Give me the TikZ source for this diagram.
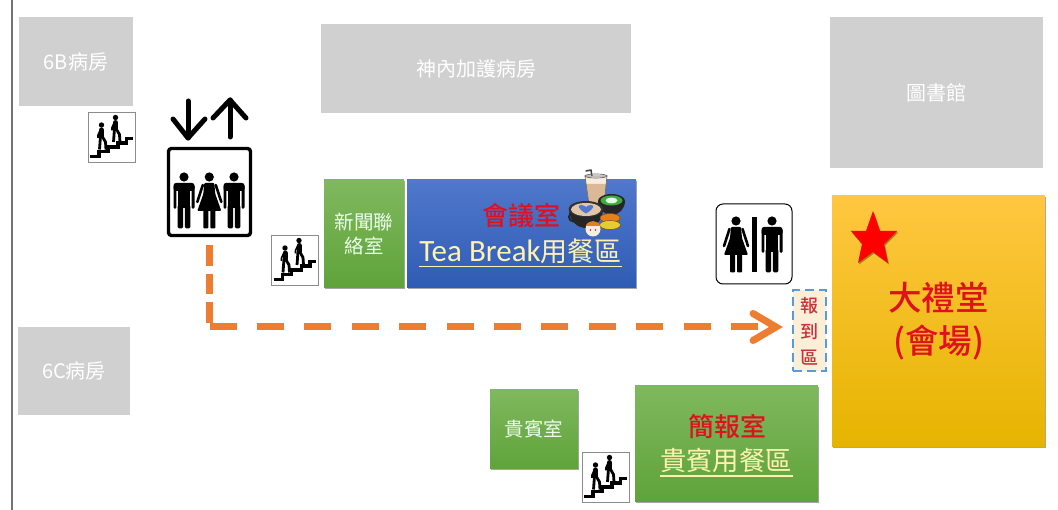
\documentclass[tikz,border=0pt]{standalone}
\usepackage{fontspec}
\setmainfont{Noto Sans CJK TC}
\newfontfamily\latinf{Carlito}
\newfontfamily\medf{Noto Sans CJK TC Medium}
\usetikzlibrary{shapes.geometric,shadows}
\definecolor{roomgray}{HTML}{D0D0D0}
\definecolor{paleyellow}{HTML}{FFF2B0}
\definecolor{routeorange}{HTML}{ED7D31}
\definecolor{greentop}{HTML}{80B85E}
\definecolor{greenbot}{HTML}{5FA33A}
\definecolor{bluetop}{HTML}{5078CC}
\definecolor{bluebot}{HTML}{2F5CB4}
\definecolor{goldtop}{HTML}{FFC740}
\definecolor{goldmid}{HTML}{FFC400}
\definecolor{goldbot}{HTML}{E6B400}
\definecolor{titlered}{HTML}{E0101E}
\definecolor{deskfill}{HTML}{FCEFD8}
\definecolor{deskline}{HTML}{5B9BD5}
\definecolor{desktext}{HTML}{C8303A}
\newcommand{\fs}[1]{\fontsize{#1}{#1}\selectfont}
\tikzset{
  room/.style={inner sep=0pt,align=center},
  grayroom/.style={room,fill=roomgray,text=white,font=\fs{20}},
  softshadow/.style={drop shadow={shadow xshift=1pt,shadow yshift=-1.5pt,opacity=.35,fill=black}},
  greenroom/.style={room,softshadow,top color=greentop,bottom color=greenbot,text=white!92!green,font=\fs{19.5}},
  blueroom/.style={room,softshadow,top color=bluetop,bottom color=bluebot},
  goldroom/.style={room,softshadow,top color=goldtop,middle color=goldmid,bottom color=goldbot},
  redtxt/.style={inner sep=0pt,text=titlered,font=\medf\fs{26}},
  halltxt/.style={inner sep=0pt,text=titlered,font=\medf\fs{33.5}},
  yellowtxt/.style={inner sep=0pt,text=paleyellow,font=\fs{26.4}},
  uline/.style={draw=paleyellow,line width=1.3pt},
  routev/.style={draw=routeorange,line width=6.6pt,dash pattern=on 20.5pt off 8pt},
  routeh/.style={draw=routeorange,line width=6.6pt,dash pattern=on 27pt off 20.4pt},
  chevron/.style={draw=routeorange,line width=7pt,line join=miter,line cap=round},
  updown/.style={draw=black,line width=5pt,line cap=round,line join=round},
  stairbox/.style={draw=black!45,line width=.6pt,fill=white,minimum width=47pt,minimum height=50pt,inner sep=0pt},
  manicon/.pic={
    \fill (0,0) circle (4.6);
    \fill[rounded corners=2.5pt] (-10.5,6) rectangle (10.5,14);
    \fill[rounded corners=1.5pt] (-10.5,8) rectangle (-7.6,32);
    \fill[rounded corners=1.5pt] (7.6,8) rectangle (10.5,32);
    \fill (-6.4,8) rectangle (6.4,31);
    \fill[rounded corners=1.5pt] (-6.4,28) rectangle (-.8,51.5);
    \fill[rounded corners=1.5pt] (.8,28) rectangle (6.4,51.5);
  },
  womanicon/.pic={
    \fill (0,0) circle (4.6);
    \fill[rounded corners=1pt] (-5,6) -- (5,6) -- (6,17) -- (12,34) -- (-12,34) -- (-6,17) -- cycle;
    \draw[line width=2.6pt,line cap=round] (-6.5,8) -- (-12,25);
    \draw[line width=2.6pt,line cap=round] (6.5,8) -- (12,25);
    \fill[rounded corners=1pt] (-6,32) rectangle (-1,51.5);
    \fill[rounded corners=1pt] (1,32) rectangle (6,51.5);
  },
  walkericon/.pic={
    \fill (0,0) circle (2.7);
    \draw[line width=5pt,line cap=round] (0,5) -- (0,11);
    \draw[line width=2.8pt,line join=round] (0.5,11) -- (4,17) -- (4.5,24.5);
    \draw[line width=2.8pt] (-1,11) -- (-2,24.5);
    \draw[line width=1.6pt,line join=round] (-1,4.5) -- (-3.5,10) -- (-3.5,13);
  },
  stairicon/.pic={
    \draw[line width=3.6pt,line join=miter] (-21.5,19.5) -- (-12.5,19.5) -- (-12.5,14.5) -- (-3.5,14.5) -- (-3.5,10) -- (6.5,10) -- (6.5,6) -- (15,6) -- (15,1.7) -- (21,1.7);
    \pic at (-10,-12) {walkericon};
    \pic at (4,-19.5) {walkericon};
  },
}
\begin{document}
\begin{tikzpicture}[x=1pt,y=-1pt]
\useasboundingbox (0,0) rectangle (1058,510);
\fill[white] (0,0) rectangle (1058,510);
\draw[black!55,line width=1.4pt] (12,0) -- (12,510);
% gray rooms
\node[grayroom,minimum width=114pt,minimum height=89pt] (r6b) at (76,61.5) {6B病房};
\node[grayroom,minimum width=310pt,minimum height=89pt] (icu) at (476,68.5) {神內加護病房};
\node[grayroom,minimum width=213pt,minimum height=151pt] (lib) at (936.5,92.5) {圖書館};
\node[grayroom,minimum width=112pt,minimum height=88pt] (r6c) at (74,371) {6C病房};
% coloured rooms
\node[greenroom,minimum width=80pt,minimum height=108pt] (press) at (364,234) {新聞聯\\[5pt]絡室};
\node[blueroom,minimum width=229pt,minimum height=108pt] (tea) at (521.5,234) {};
\node[greenroom,minimum width=88pt,minimum height=79pt] (vip) at (534,429.5) {貴賓室};
\node[greenroom,minimum width=183pt,minimum height=115pt] (brief) at (726.5,443.5) {};
\node[goldroom,minimum width=213pt,minimum height=251pt] (hall) at (938.5,321.5) {};
% room labels
\node[redtxt] (teat) at (521,216) {會議室};
\node[inner sep=0pt,text=paleyellow,anchor=base] (teab) at (520.5,262) {{\latinf\fs{31}Tea Break}{\fs{27}用餐區}};
\draw[uline] (419,266.5) -- (622,266.5);
\node[redtxt] (brieft) at (727,426) {簡報室};
\node[yellowtxt] (briefb) at (726,460) {貴賓用餐區};
\draw[uline] (660,476) -- (793,476);
\node[halltxt] (hallt) at (938.5,298) {大禮堂};
\node[halltxt] (hallb) at (938.5,343) {(會場)};
\path[fill=red,softshadow] (873,211) -- (880,231) -- (897,231) -- (884,244) -- (888,263) -- (873,252) -- (858,263) -- (862,244) -- (851,231) -- (866,231) -- cycle;
% cups
\draw[black!75,line width=1.5pt,line cap=round,line join=round] (586,171) -- (591,170) -- (596,203);
\fill[white!85!brown] (585,176) -- (607,176) -- (604,204) -- (589,204) -- cycle;
\fill[brown!55!white] (586,184) -- (606,184) -- (604,204) -- (589,204) -- cycle;
\draw[black!60,line width=.6pt] (585,176) -- (607,176) -- (604,204) -- (589,204) -- cycle;
\draw[black!60,line width=.7pt] (596,176) ellipse (11 and 2);
\fill[black!85] (598,201) arc[start angle=180,end angle=0,x radius=13.5,y radius=14];
\fill[black!85] (611.5,201) ellipse (13.5 and 7);
\fill[green!55!black!75] (611.5,200.5) ellipse (11 and 5);
\fill[green!12!white] (611.5,200.5) ellipse (6 and 2.8);
\draw[black!85,line width=2pt] (573.5,217) circle (4.5);
\fill[black!85] (569,210) .. controls (571,234) and (601,234) .. (603,210) -- cycle;
\fill[black!80] (586,209) ellipse (17.5 and 8);
\fill[brown!45!white] (586,209.5) ellipse (15 and 6.5);
\fill[bluetop] (586,213.5) .. controls (578,209) and (577,205) .. (581,205) .. controls (583,205) and (585,206) .. (586,207) .. controls (587,206) and (589,205) .. (591,205) .. controls (595,205) and (594,209) .. (586,213.5) -- cycle;
\fill[orange!65!brown,draw=brown!60!black,line width=.5pt] (610,218) ellipse (10 and 4.5);
\fill[yellow!60!brown,draw=brown!60!black,line width=.5pt] (610,225) ellipse (10.5 and 4.5);
\fill[white!85!brown] (593,229) circle (7.5);
\fill[orange!55!brown] (586,226) arc[start angle=180,end angle=0,x radius=7,y radius=-4.5] -- cycle;
\fill[black!70] (590.5,230) circle (.8) (595.5,230) circle (.8);
% elevator
\node[draw=black,line width=3.4pt,rounded corners=3pt,minimum width=82pt,minimum height=87pt,inner sep=0pt,fill=white] (elev) at (209.5,192) {};
\pic at (184,177) {manicon};
\pic at (209.3,177) {womanicon};
\pic at (234,177) {manicon};
\coordinate (downend) at (188,138);
\coordinate (downstart) at (188,101);
\coordinate (upend) at (230,100);
\coordinate (upstart) at (230,137);
\draw[updown] (downstart) -- (downend);
\draw[updown] (173,119) -- (downend) -- (205,119);
\draw[updown] (upstart) -- (upend);
\draw[updown] (213,118) -- (upend) -- (246,118);
% stairs
\node[stairbox] (s1) at (111.5,137) {};
\pic at (s1.center) {stairicon};
\node[stairbox] (s2) at (295,260) {};
\pic at (s2.center) {stairicon};
\node[stairbox] (s3) at (605.5,477) {};
\pic at (s3.center) {stairicon};
% restroom
\node[draw=black,line width=1pt,rounded corners=7pt,minimum width=76pt,minimum height=80pt,inner sep=0pt,fill=white] (wc) at (754,244) {};
\pic at (736,221) {womanicon};
\pic at (772,221) {manicon};
\fill (751.5,217) rectangle (756.5,272);
% check-in
\node[fill=deskfill,draw=deskline,line width=2pt,dash pattern=on 9pt off 5pt,minimum width=33pt,minimum height=81pt,inner sep=0pt,text=desktext,font=\medf\fs{18},align=center] (desk) at (809.5,331) {報\\[8pt]到\\[8pt]區};
% route
\coordinate (corner) at (209.5,326.7);
\coordinate (routeend) at (773,326.7);
\draw[routev,shorten <=8pt] (elev.south) -- ([yshift=3.3pt]corner);
\draw[routeh] (corner) -- (routeend);
\coordinate (tip) at (776,327);
\draw[chevron] (753,313.5) -- (tip) -- (753,340.5);
\end{tikzpicture}
\end{document}
